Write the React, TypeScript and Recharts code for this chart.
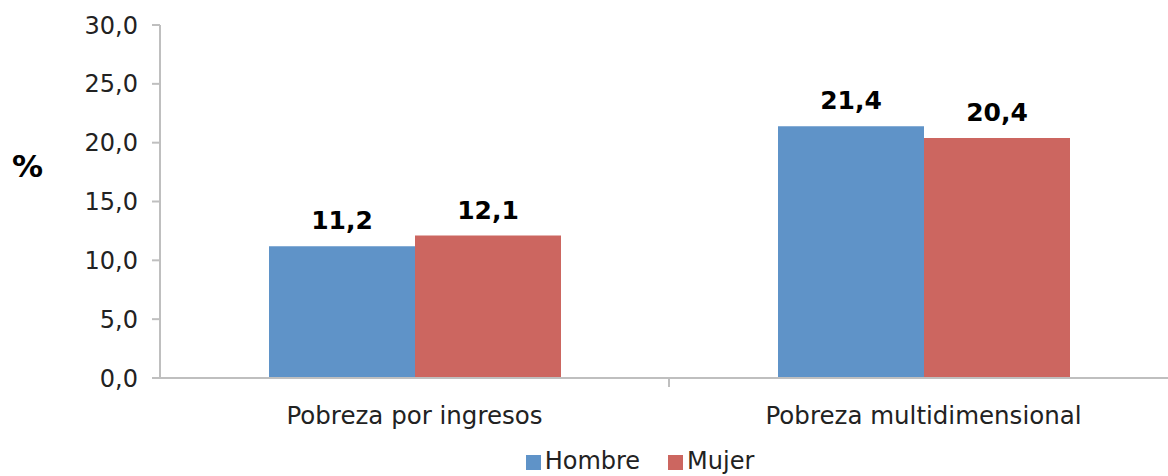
import React from "react";
import {
  BarChart,
  Bar,
  XAxis,
  YAxis,
  Legend,
  LabelList,
} from "recharts";

const categories = ["Pobreza por ingresos", "Pobreza multidimensional"];
const hombre = [11.2, 21.4];
const mujer = [12.1, 20.4];
const yTicks = [0, 5, 10, 15, 20, 25, 30];

const data = categories.map((name, i) => ({
  name,
  Hombre: hombre[i],
  Mujer: mujer[i],
}));

const FONT = "Verdana, 'DejaVu Sans', sans-serif";
const AXIS = "#bfbfbf";
const BLUE = "#5F93C8";
const RED = "#CC6660";

const comma = (v: number) => v.toFixed(1).replace(".", ",");

// category ticks sit between the groups, like a spreadsheet chart
const XTick = (props: any) => {
  const { x, y, payload, index } = props;
  const half = payload?.offset ?? 254;
  return (
    <g>
      {index === 0 && (
        <line x1={x + half} x2={x + half} y1={y - 28} y2={y - 20} stroke={AXIS} strokeWidth={2} />
      )}
      <text x={x} y={y} dy="0.71em" textAnchor="middle" fill="#222" fontSize={24.5} fontFamily={FONT}>
        {payload.value}
      </text>
    </g>
  );
};

export default function App() {
  return (
    <div style={{ position: "absolute", left: 0, top: 0, width: 1168, height: 476, overflow: "hidden", background: "#fff" }}>
      <BarChart
        width={1180}
        height={476}
        data={data}
        margin={{ top: 25, right: 2, bottom: 0, left: 0 }}
        barGap={0}
      >
        <XAxis
          dataKey="name"
          height={98}
          tickLine={false}
          axisLine={{ stroke: AXIS, strokeWidth: 2 }}
          tickMargin={23}
          tick={<XTick />}
          interval={0}
        />
        <YAxis
          width={160}
          domain={[0, 30]}
          ticks={yTicks}
          tickFormatter={comma}
          tickSize={8}
          tickMargin={14}
          axisLine={{ stroke: AXIS, strokeWidth: 2 }}
          tickLine={{ stroke: AXIS, strokeWidth: 2 }}
          tick={{ fill: "#222", fontSize: 24, fontFamily: FONT }}
          label={{
            value: "%",
            position: "insideLeft",
            offset: 12,
            dy: -36,
            style: { fontWeight: "bold", fontSize: 31, fill: "#000", fontFamily: FONT },
          }}
        />
        <Legend
          verticalAlign="middle"
          align="center"
          iconType="square"
          iconSize={15}
          wrapperStyle={{ top: 447, left: 485, width: 320, fontFamily: FONT, fontSize: 24 }}
          formatter={(value: string) => (
            <span style={{ color: "#222", marginRight: value === "Hombre" ? 18 : 0 }}>{value}</span>
          )}
        />
        <Bar dataKey="Hombre" fill={BLUE} barSize={146} isAnimationActive={false}>
          <LabelList
            dataKey="Hombre"
            position="top"
            offset={17}
            formatter={(v: any) => comma(Number(v))}
            style={{ fontWeight: "bold", fontSize: 25, fill: "#000", fontFamily: FONT }}
          />
        </Bar>
        <Bar dataKey="Mujer" fill={RED} barSize={146} isAnimationActive={false}>
          <LabelList
            dataKey="Mujer"
            position="top"
            offset={17}
            formatter={(v: any) => comma(Number(v))}
            style={{ fontWeight: "bold", fontSize: 25, fill: "#000", fontFamily: FONT }}
          />
        </Bar>
      </BarChart>
    </div>
  );
}
